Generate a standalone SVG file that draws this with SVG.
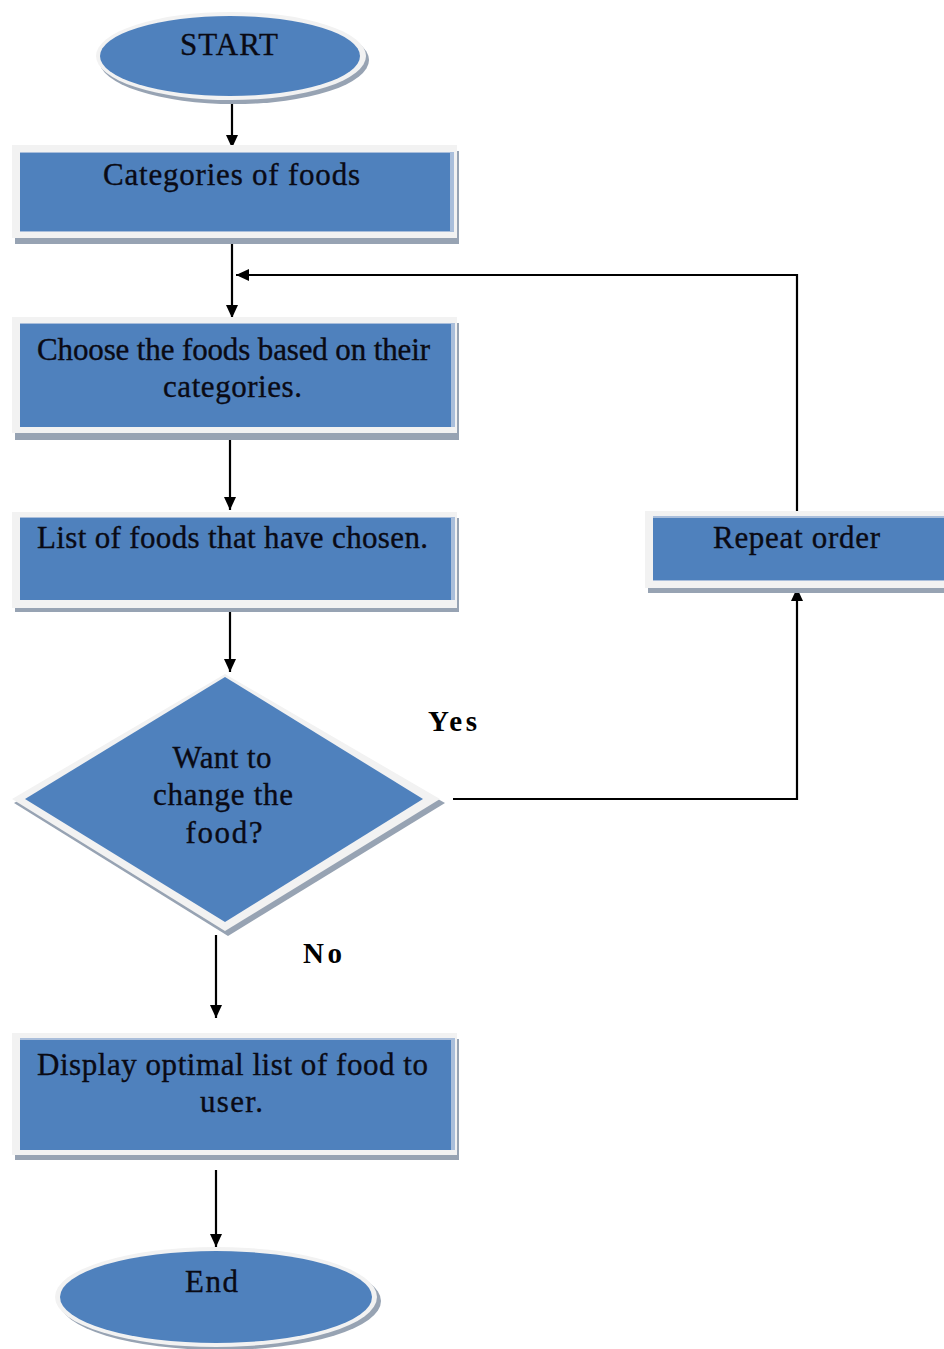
<svg xmlns="http://www.w3.org/2000/svg" width="944" height="1349" viewBox="0 0 944 1349">
  <defs>
    <marker id="arrow" markerUnits="userSpaceOnUse" markerWidth="14" markerHeight="14" viewBox="0 0 14 14" refX="13" refY="7" orient="auto">
      <path d="M0,1 L13,7 L0,13 Z" fill="#000"/>
    </marker>
    <style>
      .shadow { fill: #97a3b3; }
      .rim { fill: #f2f2f2; }
      .body { fill: #4f81bd; }
      .edge { fill: #a9bedb; }
      .label { font-family: "Liberation Serif", "Times New Roman", serif; font-size: 31px; fill: #0a0a14; stroke: #0a0a14; stroke-width: 0.35; text-anchor: middle; }
      .branch { font-family: "Liberation Serif", "Times New Roman", serif; font-size: 29px; font-weight: bold; fill: #000; text-anchor: middle; }
      .conn { fill: none; stroke: #000; stroke-width: 2.2; }
    </style>
  </defs>

  <rect width="944" height="1349" fill="#fff"/>

  <g id="connectors">
    <line class="conn" x1="232" y1="100" x2="232" y2="148" marker-end="url(#arrow)"/>
    <line class="conn" x1="232" y1="235" x2="232" y2="318" marker-end="url(#arrow)"/>
    <line class="conn" x1="230" y1="433" x2="230" y2="510" marker-end="url(#arrow)"/>
    <line class="conn" x1="230" y1="612" x2="230" y2="672" marker-end="url(#arrow)"/>
    <line class="conn" x1="216" y1="935" x2="216" y2="1018" marker-end="url(#arrow)"/>
    <line class="conn" x1="216" y1="1170" x2="216" y2="1247" marker-end="url(#arrow)"/>
    <polyline class="conn" points="453,799 797,799 797,588" stroke="#333" stroke-width="2.6" marker-end="url(#arrow)"/>
    <polyline class="conn" points="797,511 797,275 236,275" marker-end="url(#arrow)"/>
  </g>

  <g id="start">
    <ellipse class="shadow" cx="234" cy="60" rx="135" ry="44"/>
    <ellipse class="rim" cx="231" cy="56" rx="135" ry="44"/>
    <ellipse class="body" cx="230" cy="56" rx="130" ry="40"/>
    <text class="label" x="229" y="55" textLength="98" lengthAdjust="spacing">START</text>
  </g>

  <g id="categories">
    <rect class="shadow" x="15" y="151" width="444" height="93"/>
    <rect class="rim" x="12" y="145" width="445" height="93"/>
    <rect class="edge" x="20" y="152" width="434" height="80"/>
    <rect class="body" x="20" y="153" width="430" height="78"/>
    <text class="label" x="231.5" y="185" textLength="257" lengthAdjust="spacing">Categories of foods</text>
  </g>

  <g id="choose">
    <rect class="shadow" x="15" y="323" width="444" height="117"/>
    <rect class="rim" x="12" y="317" width="445" height="116"/>
    <rect class="edge" x="20" y="323" width="435" height="104"/>
    <rect class="body" x="20" y="324" width="431" height="103"/>
    <text class="label" x="233.5" y="360" textLength="393" lengthAdjust="spacing">Choose the foods based on their</text>
    <text class="label" x="232.5" y="397" textLength="139" lengthAdjust="spacing">categories.</text>
  </g>

  <g id="chosen-list">
    <rect class="shadow" x="15" y="518" width="444" height="94"/>
    <rect class="rim" x="12" y="512" width="445" height="96"/>
    <rect class="edge" x="20" y="517" width="435" height="83"/>
    <rect class="body" x="20" y="518" width="431" height="82"/>
    <text class="label" x="232.5" y="548" textLength="391" lengthAdjust="spacing">List of foods that have chosen.</text>
  </g>

  <g id="repeat-order">
    <rect class="shadow" x="648" y="517" width="300" height="76"/>
    <rect class="rim" x="645" y="511" width="302" height="77"/>
    <rect class="edge" x="653" y="516" width="294" height="65"/>
    <rect class="body" x="653" y="518" width="294" height="62"/>
    <text class="label" x="796.5" y="548" textLength="167" lengthAdjust="spacing">Repeat order</text>
  </g>

  <g id="decision">
    <polygon class="shadow" points="228,680 445,803 228,936 14,803"/>
    <polygon class="rim" points="225,674 440,799 225,931 12,799"/>
    <polygon class="body" points="225,677 423,799 225,922 25,799"/>
    <text class="label" x="222" y="768" textLength="99" lengthAdjust="spacing">Want to</text>
    <text class="label" x="223" y="805" textLength="140" lengthAdjust="spacing">change the</text>
    <text class="label" x="224" y="843" textLength="77" lengthAdjust="spacing">food?</text>
  </g>

  <g id="branch-labels">
    <text class="branch" x="452.5" y="731" textLength="49" lengthAdjust="spacing">Yes</text>
    <text class="branch" x="322.5" y="963" textLength="39" lengthAdjust="spacing">No</text>
  </g>

  <g id="display">
    <rect class="shadow" x="15" y="1039" width="444" height="121"/>
    <rect class="rim" x="12" y="1033" width="445" height="122"/>
    <rect class="edge" x="20" y="1038" width="435" height="112"/>
    <rect class="body" x="20" y="1040" width="431" height="110"/>
    <text class="label" x="232.5" y="1075" textLength="391" lengthAdjust="spacing">Display optimal list of food to</text>
    <text class="label" x="231.5" y="1112" textLength="63" lengthAdjust="spacing">user.</text>
  </g>

  <g id="end">
    <ellipse class="shadow" cx="220" cy="1301" rx="161" ry="49"/>
    <ellipse class="rim" cx="216" cy="1297" rx="161" ry="50"/>
    <ellipse class="body" cx="216" cy="1297" rx="156" ry="46"/>
    <text class="label" x="211.5" y="1292" textLength="53" lengthAdjust="spacing">End</text>
  </g>
</svg>
